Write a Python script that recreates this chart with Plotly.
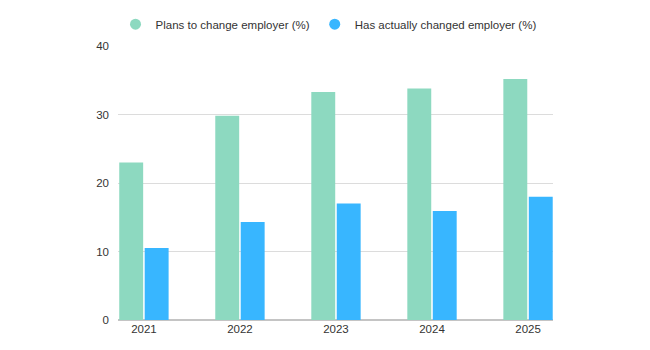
import plotly.graph_objects as go

years = ["2021", "2022", "2023", "2024", "2025"]
plans_to_change = [23.0, 29.8, 33.3, 33.8, 35.2]
actually_changed = [10.5, 14.3, 17.0, 15.9, 18.0]
series_names = ["Plans to change employer (%)", "Has actually changed employer (%)"]
colors = ["#8dd9c0", "#38b6ff"]

fig = go.Figure()
for name, vals, col in zip(series_names, [plans_to_change, actually_changed], colors):
    fig.add_trace(go.Bar(x=years, y=vals, name=name, marker=dict(color=col, line=dict(width=0)),
                         showlegend=False))
for name, col in zip(series_names, colors):
    fig.add_trace(go.Scatter(x=[None], y=[None], mode="markers", name=name,
                             marker=dict(symbol="circle", size=11, color=col)))

fig.update_layout(
    width=650, height=350,
    margin=dict(l=118, r=97, t=46, b=30, autoexpand=False),
    paper_bgcolor="white", plot_bgcolor="white",
    font=dict(family="Liberation Sans, Arial, sans-serif", size=12, color="#333333"),
    barmode="group", bargap=0.47, bargroupgap=0.06,
    legend=dict(orientation="h", xref="container", yref="container",
                x=0.1777, xanchor="left", y=0.931, yanchor="middle",
                font=dict(size=11.5, color="#333333"), itemwidth=30, tracegroupgap=0),
    xaxis=dict(type="category", range=[-0.27, 4.26], showgrid=False, showline=False,
               ticks="", tickfont=dict(size=11.5, color="#333333")),
    yaxis=dict(range=[0, 40], dtick=10, showgrid=True, gridcolor="#dcdcdc", gridwidth=1,
               zeroline=True, zerolinecolor="#c4c4c4", zerolinewidth=1.5,
               showline=False, ticks="", ticklabelstandoff=8,
               tickfont=dict(size=11.5, color="#333333")),
)
fig.write_html("out.html")
